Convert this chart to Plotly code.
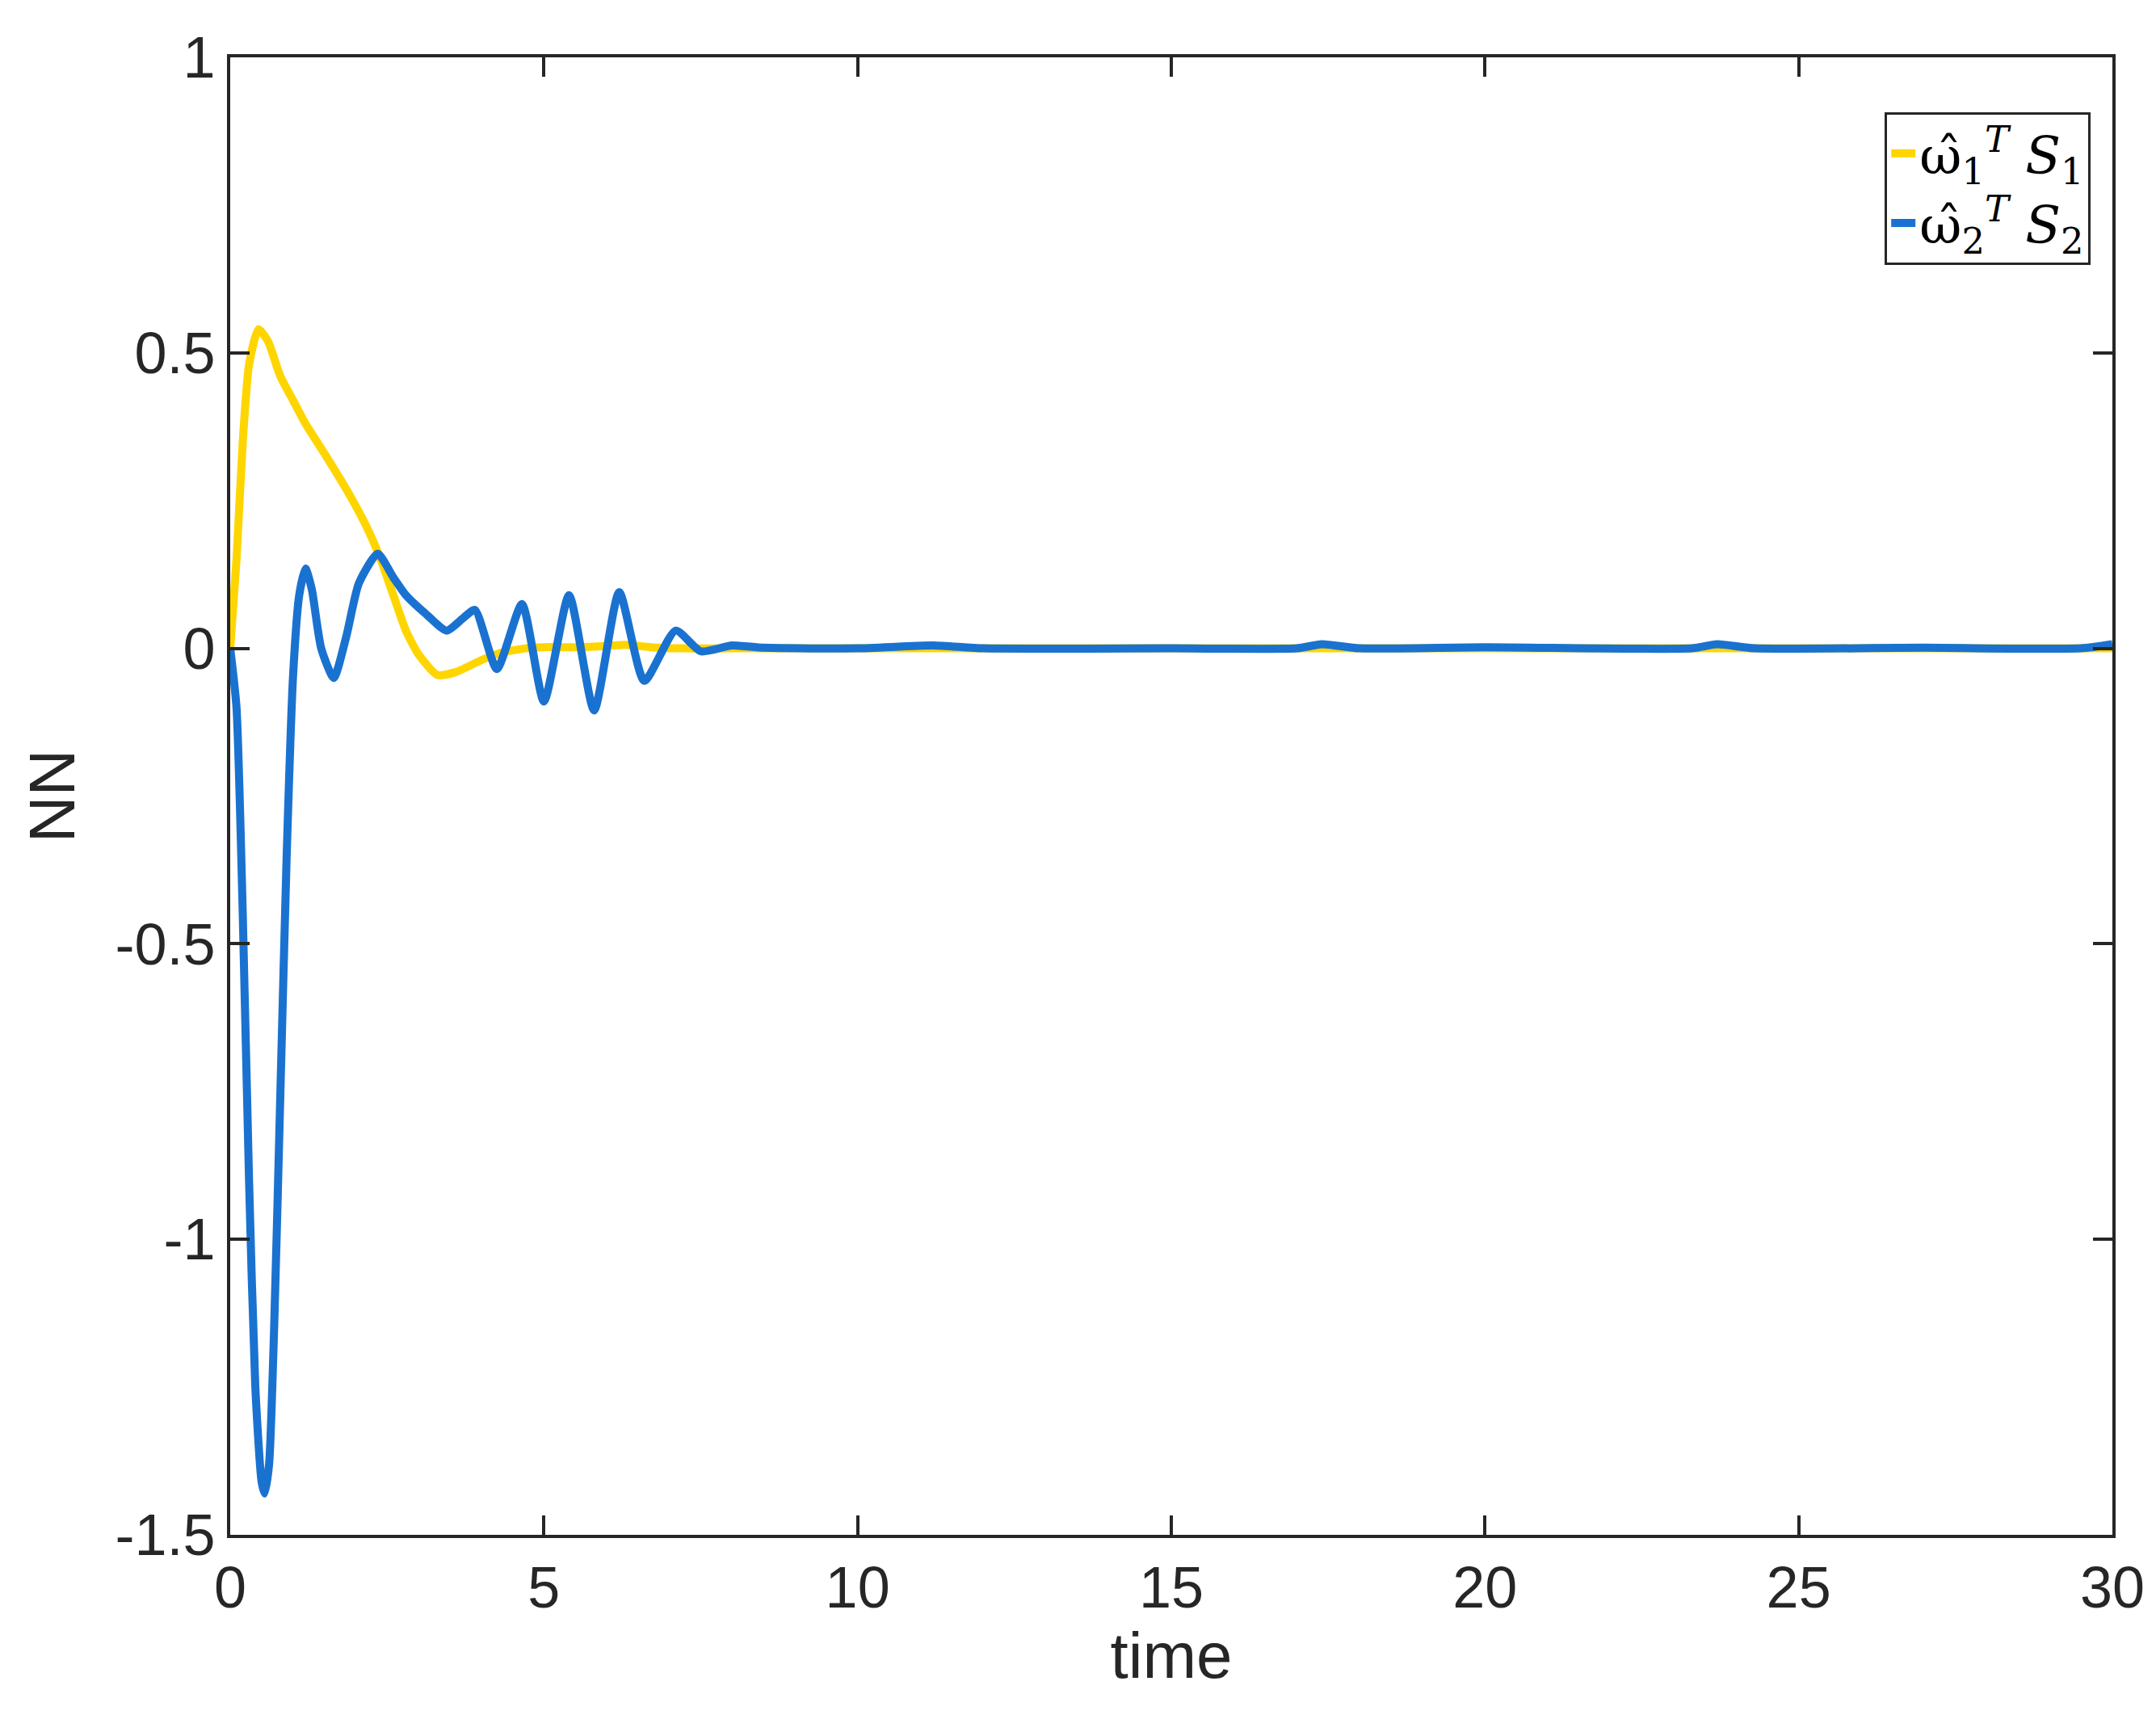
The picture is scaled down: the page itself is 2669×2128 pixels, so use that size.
import plotly.graph_objects as go

# values
t1 = [0, 0.1, 0.2, 0.3, 0.45, 0.6, 0.8, 1.0, 1.2, 1.5, 1.9, 2.2, 2.4, 2.6, 2.8, 3.0, 3.3, 3.6, 4.0, 4.3, 4.7, 5.0, 5.5, 6.0, 6.3, 6.7, 7.2, 8, 10, 15, 20, 25, 30]
y1 = [0, 0.15, 0.35, 0.48, 0.54, 0.52, 0.46, 0.42, 0.38, 0.33, 0.26, 0.2, 0.15, 0.09, 0.03, -0.01, -0.045, -0.04, -0.02, -0.008, 0, 0.002, 0.002, 0.004, 0.006, 0.002, 0, 0, 0, 0, 0, 0, 0]

t2 = [0, 0.1, 0.2, 0.3, 0.4, 0.5, 0.55, 0.62, 0.7, 0.8, 0.9, 1.0, 1.1, 1.2, 1.3, 1.45, 1.65, 1.85, 2.05, 2.35, 2.6, 2.8, 3.1, 3.45, 3.7, 3.9, 4.25, 4.65, 5.0, 5.4, 5.8, 6.2, 6.6, 7.1, 7.5, 8.0, 8.5, 10, 11.2, 12, 15, 17, 17.4, 18, 20, 23.3, 23.7, 24.3, 27, 29.5, 30]
y2 = [0, -0.1, -0.45, -0.9, -1.25, -1.41, -1.43, -1.38, -1.15, -0.75, -0.35, -0.05, 0.09, 0.135, 0.1, 0.0, -0.05, 0.02, 0.11, 0.16, 0.12, 0.09, 0.06, 0.03, 0.05, 0.065, -0.035, 0.075, -0.09, 0.09, -0.105, 0.095, -0.055, 0.03, -0.005, 0.005, 0.001, 0.0, 0.005, 0.0, 0.0, 0.0, 0.007, 0.0, 0.002, 0.0, 0.007, 0.0, 0.001, 0.0, 0.007]

yticks = [1, 0.5, 0, -0.5, -1, -1.5]
ytick_text = ["1", "0.5", "0", "-0.5", "-1", "-1.5"]
xticks = [0, 5, 10, 15, 20, 25, 30]

YELLOW = "#FFD500"
BLUE = "#1A72D0"

fig = go.Figure()
fig.add_trace(go.Scatter(
    x=t1, y=y1, mode="lines", line=dict(color=YELLOW, width=10, shape="spline", smoothing=0.6),
    name="ω̂<sub>1</sub><sup><i>T</i></sup> <i>S</i><sub>1</sub>",
))
fig.add_trace(go.Scatter(
    x=t2, y=y2, mode="lines", line=dict(color=BLUE, width=10, shape="spline", smoothing=0.6),
    name="ω̂<sub>2</sub><sup><i>T</i></sup> <i>S</i><sub>2</sub>",
))

axis_common = dict(
    showgrid=False, zeroline=False, showline=True, linecolor="#262626", linewidth=4,
    mirror="ticks", ticks="inside", ticklen=24, tickwidth=4, tickcolor="#262626",
    tickfont=dict(family="Liberation Sans", size=72, color="#262626"),
)
title_font = dict(family="Liberation Sans", size=80, color="#262626")
fig.update_xaxes(range=[0, 30], tickvals=xticks, title=dict(text="time", font=title_font, standoff=15), **axis_common)
fig.update_yaxes(range=[-1.5, 1], tickvals=yticks, ticktext=ytick_text, title=dict(text="NN", font=title_font, standoff=25), **axis_common)

fig.update_layout(
    width=2669, height=2128,
    margin=dict(l=277, r=62, t=63, b=236),
    plot_bgcolor="white", paper_bgcolor="white",
    legend=dict(
        x=0.9885, y=0.963, xanchor="right", yanchor="top",
        bordercolor="#262626", borderwidth=3, bgcolor="white",
        font=dict(family="DejaVu Serif", size=64, color="black"),
        tracegroupgap=0,
    ),
)

fig.write_html("out.html")
